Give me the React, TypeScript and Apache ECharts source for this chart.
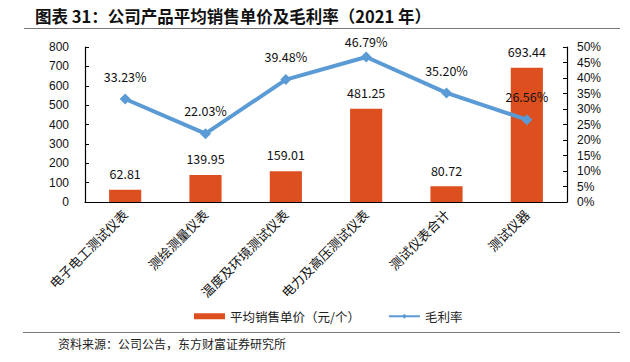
import React, { useEffect, useRef } from "react";
import * as echarts from "echarts";

const categories = ["电子电工测试仪表", "测绘测量仪表", "温度及环境测试仪表", "电力及高压测试仪表", "测试仪表合计", "测试仪器"];
const priceValues = [62.81, 139.95, 159.01, 481.25, 80.72, 693.44];
const marginValues = [33.23, 22.03, 39.48, 46.79, 35.2, 26.56];
const titleText = "图表 31：公司产品平均销售单价及毛利率（2021 年）";
const sourceText = "资料来源：公司公告，东方财富证券研究所";
const priceName = "平均销售单价（元/个）";
const marginName = "毛利率";

const FONT = "'Noto Sans CJK SC', 'Liberation Sans', sans-serif";

export default function App() {
  const ref = useRef<HTMLDivElement>(null);
  useEffect(() => {
    if (!ref.current) return;
    const chart = echarts.init(ref.current, null, { renderer: "svg" });
    const maxIdx = marginValues.indexOf(Math.max(...marginValues));
    chart.setOption({
      animation: false,
      backgroundColor: "#fff",
      textStyle: { fontFamily: FONT },
      graphic: [
        { type: "text", left: 35, top: 8, style: { text: titleText, font: `bold 16.5px ${FONT}`, fill: "#111" } },
        { type: "line", shape: { x1: 24, y1: 28.5, x2: 620, y2: 28.5 }, style: { stroke: "#777", lineWidth: 1.2 } },
        { type: "line", shape: { x1: 23, y1: 332.5, x2: 620, y2: 332.5 }, style: { stroke: "#777", lineWidth: 1.2 } },
        { type: "text", left: 58, top: 337, style: { text: sourceText, font: `12px ${FONT}`, fill: "#222" } },
      ],
      legend: {
        left: 189,
        top: 305,
        itemGap: 28,
        textStyle: { fontSize: 12.5, color: "#222", fontFamily: FONT },
        data: [
          { name: priceName, icon: "rect", itemStyle: { color: "#dd4f1f" } },
          { name: marginName },
        ],
        itemWidth: 31,
        itemHeight: 6,
      },
      grid: { left: 85, right: 63, top: 47, bottom: 160 },
      xAxis: {
        type: "category",
        data: categories,
        axisLine: { lineStyle: { color: "#000", width: 1.2 } },
        axisTick: { inside: true, alignWithLabel: false, lineStyle: { color: "#000" }, length: 4 },
        axisLabel: { rotate: 45, fontSize: 13, color: "#111", margin: 10, interval: 0, fontFamily: FONT },
      },
      yAxis: [
        {
          type: "value",
          min: 0,
          max: 800,
          interval: 100,
          splitLine: { show: false },
          axisLine: { show: true, lineStyle: { color: "#000", width: 1.2 } },
          axisTick: { show: true, inside: true, length: 4, lineStyle: { color: "#000" } },
          axisLabel: { fontSize: 12, color: "#111", margin: 16, fontFamily: "'Liberation Sans', Arial, sans-serif" },
        },
        {
          type: "value",
          min: 0,
          max: 50,
          interval: 5,
          splitLine: { show: false },
          axisLine: { show: true, lineStyle: { color: "#000", width: 1.2 } },
          axisTick: { show: true, inside: true, length: 4, lineStyle: { color: "#000" } },
          axisLabel: { fontSize: 12, color: "#111", margin: 10, formatter: "{value}%", fontFamily: "'Liberation Sans', Arial, sans-serif" },
        },
      ],
      series: [
        {
          name: priceName,
          type: "bar",
          data: priceValues,
          barWidth: "40%",
          itemStyle: { color: "#dd4f1f" },
          label: {
            show: true,
            position: "top",
            distance: 10,
            fontSize: 12.5,
            color: "#111",
            fontFamily: FONT,
            formatter: (p: any) => p.value.toFixed(2),
          },
        },
        {
          name: marginName,
          type: "line",
          yAxisIndex: 1,
          data: marginValues.map((v, i) =>
            i === maxIdx ? { value: v, label: { offset: [0, 7] } } : v
          ),
          symbol: "diamond",
          symbolSize: 11,
          lineStyle: { color: "#5b9bd5", width: 4 },
          itemStyle: { color: "#5b9bd5" },
          label: {
            show: true,
            position: "top",
            distance: 11,
            fontSize: 12.5,
            color: "#111",
            fontFamily: FONT,
            formatter: (p: any) => p.value.toFixed(2) + "%",
          },
        },
      ],
    });
    return () => chart.dispose();
  }, []);
  return <div ref={ref} style={{ width: 630, height: 362, position: "absolute", left: 0, top: 0 }} />;
}
